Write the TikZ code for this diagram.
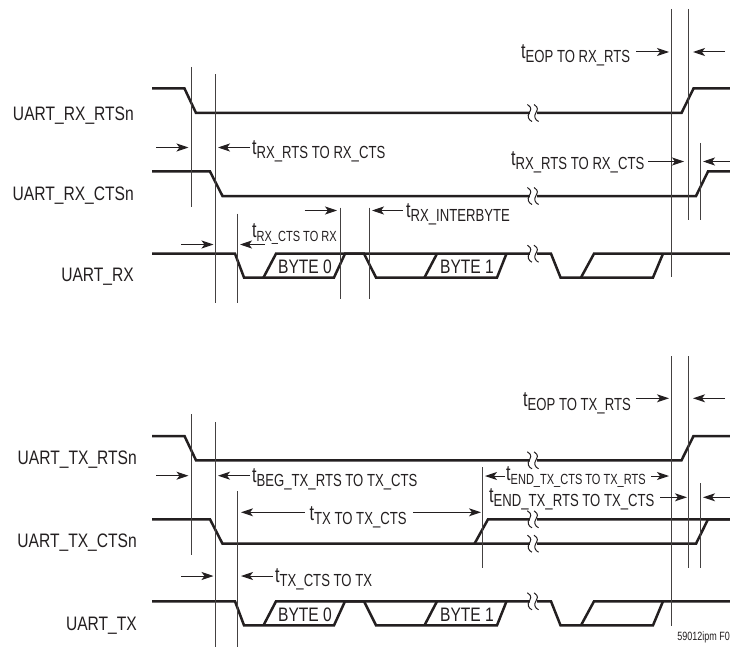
\documentclass[tikz,border=0pt]{standalone}
\usepackage{fontspec}
\usetikzlibrary{arrows.meta}
\newfontfamily\biglab[FakeStretch=0.80]{Liberation Sans}
\newfontfamily\sublab[FakeStretch=0.75]{Liberation Sans}
\definecolor{ink}{HTML}{231F20}
\tikzset{
  sig/.style={draw=ink,line width=2.5pt,line join=miter},
  guide/.style={draw=ink!85,line width=0.95pt},
  dim/.style={draw=ink,line width=1pt,-{Stealth[length=12pt,width=8pt,inset=3pt]}},
  squig/.style={draw=ink,line width=1pt},
  sname/.style={anchor=base east,inner sep=0pt,text=ink,font=\biglab\fontsize{19.5}{19.5}\selectfont},
  bytelab/.style={anchor=base,inner sep=0pt,text=ink,font=\biglab\fontsize{19.5}{19.5}\selectfont},
  tlab/.style={anchor=base west,inner sep=0pt,text=ink},
}
% \tl{name}{x}{sub baseline}{subscript}{size}
\newcommand{\tl}[5]{\node[tlab] (#1) at (#2,#3-4) {\sublab\fontsize{21.5}{21.5}\selectfont t\raisebox{-4pt}{\fontsize{#5}{#5}\selectfont #4}};}
% break marks
\newcommand{\brk}[2]{%
  \fill[white] (#1-3.5,#2-1.9) rectangle (#1+3.5,#2+1.9);
  \foreach \cx in {#1-3.4,#1+3.2}{
    \draw[squig] (\cx-2.2,#2-8.5) .. controls (\cx+3.2,#2-5) and (\cx+0.8,#2-3) .. (\cx-0.4,#2)
      .. controls (\cx-2.6,#2+3) and (\cx-1.2,#2+7) .. (\cx+2.4,#2+8.5);
  }}
% data waveform at high y #1, low y #2
\newcommand{\wave}[2]{%
  \draw[sig] (152,#1) -- (235,#1) -- (244,#2) -- (334,#2) -- (345,#1) -- (364,#1) -- (376,#2) -- (497,#2) -- (506.5,#1);
  \draw[sig] (263.5,#2) -- (276,#1) -- (551,#1) -- (560.5,#2) -- (653,#2) -- (663,#1);
  \draw[sig] (424.5,#2) -- (437,#1);
  \draw[sig] (581,#2) -- (594,#1) -- (730,#1);
}
\begin{document}
\begin{tikzpicture}[x=1pt,y=-1pt]
\useasboundingbox (0,0) rectangle (730,647);
% ---------- RX signals
\draw[sig] (152,88.5) -- (184.5,88.5) -- (196,113) -- (681.5,113) -- (693.5,88.5) -- (730,88.5);
\draw[sig] (152,171.5) -- (210,171.5) -- (222.5,196) -- (696,196) -- (708,171.5) -- (730,171.5);
\wave{253.7}{277.5}
\brk{533}{113}\brk{533}{196}\brk{533}{253.7}
% RX guides
\draw[guide] (191.7,67) -- (191.7,207);
\draw[guide] (215.7,74.5) -- (215.7,303);
\draw[guide] (237.5,213.5) -- (237.5,303);
\draw[guide] (340,207.5) -- (340,298.5);
\draw[guide] (369.5,207.5) -- (369.5,298.5);
\draw[guide] (671.5,9) -- (671.5,277);
\draw[guide] (688,9) -- (688,220);
\draw[guide] (700,143) -- (700,220);
% RX dimensions
\draw[dim] (156,147.5) -- (188.5,147.5);
\draw[dim] (250,147.5) -- (218,147.5);
\draw[dim] (181,244.5) -- (213.5,244.5);
\draw[dim] (265,244.5) -- (240,244.5);
\draw[dim] (304.5,210.5) -- (337,210.5);
\draw[dim] (403,210.5) -- (372,210.5);
\draw[dim] (636,52) -- (669,52);
\draw[dim] (725,52) -- (693,52);
\draw[dim] (648,161.5) -- (684,161.5);
\draw[dim] (730,161.5) -- (703,161.5);
% RX labels
\node[sname] (rxrts) at (134,120.5) {UART\_RX\_RTSn};
\node[sname] (rxcts) at (134,200.5) {UART\_RX\_CTSn};
\node[sname] (rxd) at (134,281) {UART\_RX};
\node[bytelab] (rxb0) at (305,273) {BYTE 0};
\node[bytelab] (rxb1) at (467,273) {BYTE 1};
\tl{l1}{252}{159}{RX\_RTS TO RX\_CTS}{17.5}
\tl{l2}{252}{241}{RX\_CTS TO RX}{14.7}
\tl{l3}{406}{221.5}{RX\_INTERBYTE}{17.5}
\tl{l4}{521}{63}{EOP TO RX\_RTS}{17.5}
\tl{l5}{511}{170}{RX\_RTS TO RX\_CTS}{17.5}
% ---------- TX signals
\draw[sig] (152,436) -- (184.5,436) -- (196,460.3) -- (681.5,460.3) -- (693.5,436) -- (730,436);
\draw[sig] (152,519.3) -- (210,519.3) -- (222.5,543.7) -- (696,543.7) -- (708,519.3) -- (730,519.3);
\draw[sig] (474.5,543.7) -- (488,519.3) -- (730,519.3);
\wave{601.3}{625.3}
\brk{533}{460.3}\brk{533}{519.3}\brk{533}{543.7}\brk{533}{601.3}
% TX guides
\draw[guide] (191.7,414) -- (191.7,554.5);
\draw[guide] (215.7,422) -- (215.7,647);
\draw[guide] (237.5,491) -- (237.5,647);
\draw[guide] (482.7,467) -- (482.7,568);
\draw[guide] (671.5,356) -- (671.5,626);
\draw[guide] (688,356) -- (688,568);
\draw[guide] (700,483) -- (700,568);
% TX dimensions
\draw[dim] (156,475.7) -- (188.5,475.7);
\draw[dim] (250,475.7) -- (218,475.7);
\draw[dim] (304.5,512.3) -- (241,512.3);
\draw[dim] (413,512.3) -- (481,512.3);
\draw[dim] (181,576) -- (213.5,576);
\draw[dim] (273,576) -- (241,576);
\draw[dim] (636,398.3) -- (669,398.3);
\draw[dim] (725,398.3) -- (693,398.3);
\draw[dim] (505,476) -- (485,476);
\draw[dim] (651,476) -- (669,476);
\draw[dim] (660,497.3) -- (687,497.3);
\draw[dim] (730,497.3) -- (703,497.3);
% TX labels
\node[sname] (txrts) at (137,464) {UART\_TX\_RTSn};
\node[sname] (txcts) at (137,547) {UART\_TX\_CTSn};
\node[sname] (txd) at (137,630) {UART\_TX};
\node[bytelab] (txb0) at (305,621) {BYTE 0};
\node[bytelab] (txb1) at (467,621) {BYTE 1};
\tl{l6}{252}{486.7}{BEG\_TX\_RTS TO TX\_CTS}{17.5}
\tl{l7}{309.5}{524}{TX TO TX\_CTS}{17.5}
\tl{l8}{275}{586.7}{TX\_CTS TO TX}{17.5}
\tl{l9}{523}{410}{EOP TO TX\_RTS}{17.5}
\tl{l10}{506}{484}{END\_TX\_CTS TO TX\_RTS}{14.7}
\tl{l11}{489}{506}{END\_TX\_RTS TO TX\_CTS}{17.5}
\node[anchor=east,inner sep=0pt,text=ink,font=\sublab\fontsize{12}{12}\selectfont] (code) at (730,637.7) {59012ipm F0};
\end{tikzpicture}
\end{document}
